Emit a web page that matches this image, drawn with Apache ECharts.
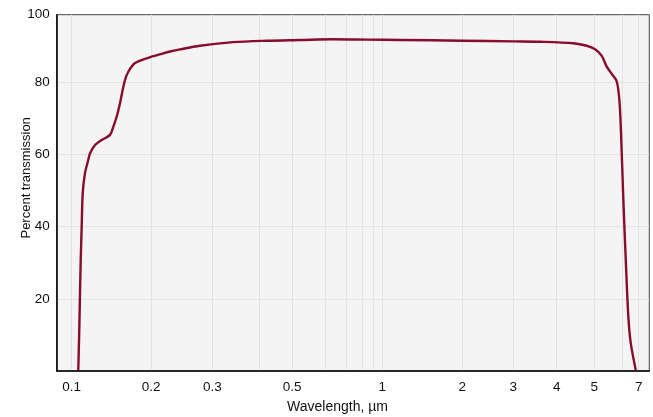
<!DOCTYPE html>
<html>
<head>
<meta charset="utf-8">
<script src="https://cdn.jsdelivr.net/npm/echarts@6/dist/echarts.min.js"></script>
<style>
html,body{margin:0;padding:0;background:#fff;}
#chart{width:653px;height:417px;}
</style>
</head>
<body>
<div id="chart"></div>
<script>
// Transmission curve (wavelength in µm, percent transmission)
const wavelengths = [0.1059, 0.1069, 0.1075, 0.1082, 0.1091, 0.1101, 0.1123, 0.1156, 0.1174, 0.1226,
  0.1300, 0.1398, 0.1439, 0.1482, 0.1525, 0.1562, 0.1593, 0.1640, 0.1739, 0.1940,
  0.2170, 0.2268, 0.2423, 0.2766, 0.3405, 0.4207, 0.5226, 0.6363, 0.8402, 1.166,
  2.0, 3.0, 3.581, 4.414, 4.780, 5.023, 5.247, 5.420, 5.600, 5.785,
  5.884, 5.949, 6.057, 6.212, 6.348, 6.493, 6.806];
const transmission = [0.3, 12.3, 21.5, 30.8, 40.0, 49.2, 54.8, 58.5, 60.3, 62.6,
  64.0, 65.4, 67.7, 70.5, 74.2, 77.9, 80.6, 82.9, 85.3, 86.7,
  88.0, 88.5, 89.1, 90.1, 91.1, 91.5, 91.7, 91.9, 91.8, 91.7,
  91.5, 91.3, 91.2, 90.8, 90.1, 89.1, 87.3, 84.3, 82.3, 80.2,
  75.1, 65.9, 47.4, 28.9, 15.0, 7.7, 0.3];

// The wavelength axis of the original is a distorted (non-uniform) log scale.
// Scale stops: wavelength -> axis units (decades from 0.1 µm as drawn).
const scaleWavelengths = [0.1, 0.2, 0.3, 0.4, 0.5, 0.6, 0.7, 0.8, 0.9, 1, 2, 3, 4, 5, 6, 7];
const scaleUnits = [0, 0.2553, 0.4527, 0.6040, 0.7093, 0.8155, 0.8831, 0.9346, 0.9710, 1,
  1.2576, 1.4218, 1.5615, 1.6826, 1.7727, 1.8255];
const xRange = [0.0877, 7.73];
const xTickLabels = ['0.1', '0.2', '0.3', '0.5', '1', '2', '3', '4', '5', '7'];
const yTicks = [20, 40, 60, 80];
const yTopLabel = '100';
const yRange = [0, 98.7];

function toAxis(w) {
  const n = scaleWavelengths.length;
  let i = 0;
  while (i < n - 2 && w > scaleWavelengths[i + 1]) i++;
  const w0 = scaleWavelengths[i], w1 = scaleWavelengths[i + 1];
  const u0 = scaleUnits[i], u1 = scaleUnits[i + 1];
  return u0 + (u1 - u0) * Math.log(w / w0) / Math.log(w1 / w0);
}

const labelUnits = xTickLabels.map(s => toAxis(parseFloat(s)));
const gridUnits = scaleWavelengths.map(toAxis);
const seriesData = wavelengths.map((w, i) => [toAxis(w), transmission[i]]);

const FONT = '"Liberation Sans", Arial, Helvetica, sans-serif';
const chart = echarts.init(document.getElementById('chart'), null, {renderer: 'canvas'});
chart.setOption({
  animation: false,
  backgroundColor: '#ffffff',
  grid: {
    left: 56.7, right: 3.7, top: 14.7, bottom: 46,
    show: true, backgroundColor: '#f4f4f4', borderColor: '#444', borderWidth: 1,
    containLabel: false, outerBoundsMode: 'none'
  },
  xAxis: {
    type: 'value',
    min: toAxis(xRange[0]), max: toAxis(xRange[1]),
    name: 'Wavelength, µm', nameLocation: 'middle', nameGap: 29, nameMoveOverlap: false,
    nameTextStyle: {fontFamily: FONT, fontSize: 14, color: '#111', padding: [0, 31, 0, 0]},
    axisLine: {show: true, onZero: false, lineStyle: {color: '#000', width: 1.5}},
    axisTick: {show: false, customValues: gridUnits},
    axisLabel: {
      customValues: labelUnits, margin: 9,
      fontFamily: FONT, fontSize: 13.5, color: '#111',
      formatter: function (v) {
        let best = 0, bd = Infinity;
        labelUnits.forEach((u, k) => { const d = Math.abs(u - v); if (d < bd) { bd = d; best = k; } });
        return xTickLabels[best];
      }
    },
    splitLine: {show: true, lineStyle: {color: '#e2e2e2', width: 1}}
  },
  yAxis: {
    type: 'value',
    min: yRange[0], max: yRange[1],
    name: 'Percent transmission', nameLocation: 'middle', nameGap: 23.5, nameRotate: 90,
    nameMoveOverlap: false,
    nameTextStyle: {fontFamily: FONT, fontSize: 13, color: '#111', padding: [0, 0, 0, 30]},
    axisLine: {show: true, onZero: false, lineStyle: {color: '#000', width: 1.5}},
    axisTick: {show: false, customValues: yTicks},
    axisLabel: {
      customValues: yTicks.concat([yRange[1]]), margin: 7,
      fontFamily: FONT, fontSize: 13.5, color: '#111',
      formatter: function (v) { return v > yTicks[yTicks.length - 1] ? yTopLabel : String(v); }
    },
    splitLine: {show: true, lineStyle: {color: '#e2e2e2', width: 1}}
  },
  series: [{
    type: 'line',
    data: seriesData,
    showSymbol: false,
    smooth: 0.3,
    lineStyle: {color: '#870c2d', width: 2.4},
    itemStyle: {color: '#870c2d'}
  }]
});
</script>
</body>
</html>
